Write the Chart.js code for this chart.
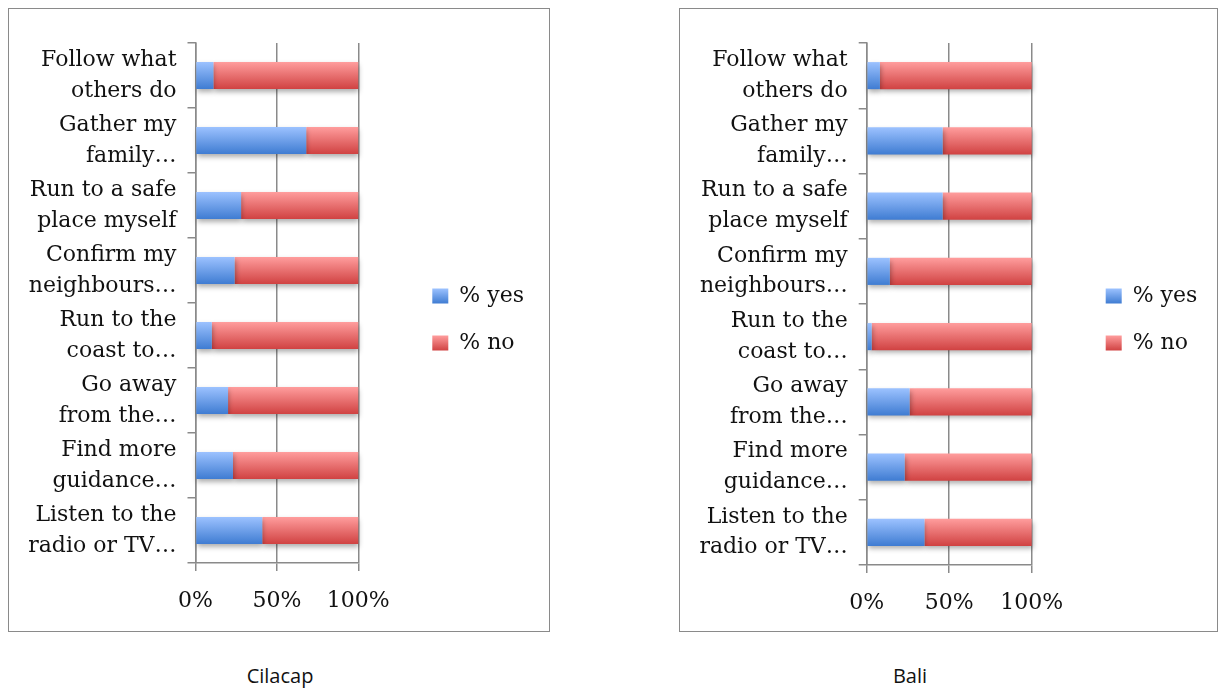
<!DOCTYPE html>
<html>
<head>
<meta charset="utf-8">
<script src="https://cdn.jsdelivr.net/npm/chart.js@4.4.1/dist/chart.umd.min.js"></script>
<style>
  html, body { margin: 0; padding: 0; background: #fff; }
  body { position: relative; width: 1218px; height: 690px; overflow: hidden; }
  .panel { position: absolute; top: 8px; height: 624px; border: 1.5px solid #8a8a8a; box-sizing: border-box; }
  canvas { position: absolute; top: 8px; }
  .caption { position: absolute; top: 662px; font: 20px "Open Sans", sans-serif; color: #111; transform: translateX(-50%); white-space: nowrap; }
</style>
</head>
<body>
<canvas id="cilacap" width="541" height="623" style="left:8px"></canvas>
<canvas id="bali" width="539" height="623" style="left:679px"></canvas>
<div class="panel" style="left:8px;width:542px"></div>
<div class="panel" style="left:679px;width:539px"></div>
<div class="caption" style="left:280px">Cilacap</div>
<div class="caption" style="left:910px">Bali</div>

<script>
// Survey answers: what people would do when a tsunami warning is issued
const categories = [
  ['Follow what', 'others do'],
  ['Gather my', 'family\u2026'],
  ['Run to a safe', 'place myself'],
  ['Confirm my', 'neighbours\u2026'],
  ['Run to the', 'coast to\u2026'],
  ['Go away', 'from the\u2026'],
  ['Find more', 'guidance\u2026'],
  ['Listen to the', 'radio or TV\u2026']
];
const seriesNames = ['% yes', '% no'];

const cilacapYes = [11, 68, 28, 24, 10, 20, 23, 41];
const cilacapNo  = [89, 32, 72, 76, 90, 80, 77, 59];

const baliYes = [8, 46, 46, 14, 3, 26, 23, 35];
const baliNo  = [92, 54, 54, 86, 97, 74, 77, 65];

const percentTicks = [0, 50, 100];

// ---- styling ----
const GRID = '#8a8a8a';
const TEXT = '#111111';
const SERIF = 'DejaVu Serif';
const BAR_SHARE = 0.415;
const BLUE = ['#9cc2ff', '#3f7cd2'];
const RED  = ['#ff9d9d', '#d04242'];
const LEGEND = { top: 277, gap: 74, box: 15, font: 22, padding: 25 };

function verticalGradient(ctx, top, bottom, stops) {
  const g = ctx.createLinearGradient(0, top, 0, bottom);
  g.addColorStop(0, stops[0]);
  g.addColorStop(1, stops[1]);
  return g;
}

// vertical light-to-dark gradient across each bar
function barFill(stops) {
  return (c) => {
    const chart = c.chart;
    const area = chart.chartArea;
    if (c.type !== 'data' || !area || !chart.scales.y) return stops[1];
    const mid = chart.scales.y.getPixelForValue(c.dataIndex);
    const half = (area.bottom - area.top) / categories.length * BAR_SHARE / 2;
    return verticalGradient(chart.ctx, mid - half, mid + half, stops);
  };
}

// legend swatches get the same gradient as the bars
function legendLabels(chart) {
  const items = Chart.defaults.plugins.legend.labels.generateLabels(chart);
  const stopsList = [BLUE, RED];
  items.forEach((item, i) => {
    const top = LEGEND.top + (LEGEND.font - LEGEND.box) / 2 + i * (LEGEND.font + LEGEND.padding);
    item.fillStyle = verticalGradient(chart.ctx, top, top + LEGEND.box, stopsList[i]);
    item.lineWidth = 0;
    item.strokeStyle = 'rgba(0,0,0,0)';
  });
  return items;
}

// soft drop shadow under the bars
const barShadow = {
  id: 'barShadow',
  beforeDatasetsDraw(chart, args, opts) {
    const ctx = chart.ctx;
    ctx.save();
    ctx.shadowColor = opts.color;
    ctx.shadowBlur = opts.blur;
    ctx.shadowOffsetX = opts.x;
    ctx.shadowOffsetY = opts.y;
  },
  afterDatasetsDraw(chart) {
    chart.ctx.restore();
  }
};

// fixed-width legend column, placed at a set gap from the plot
const legendSlot = {
  id: 'legendSlot',
  beforeLayout(chart, args, opts) {
    const legend = chart.legend;
    if (!legend || legend._slotPatched) return;
    const baseFit = legend.fit;
    legend.fit = function () {
      baseFit.call(this);
      this.width = opts.width;
    };
    legend._slotPatched = true;
  },
  afterLayout(chart, args, opts) {
    const legend = chart.legend;
    const pad = legend.options.labels.padding;
    const dx = chart.chartArea.right + opts.gap - pad - legend.left;
    const dy = opts.top - pad - legend.top;
    legend.left += dx; legend.right += dx;
    legend.top += dy; legend.bottom += dy;
  }
};

function makeChart(id, yes, no, dims) {
  const font = { family: SERIF, size: 22 };
  return new Chart(document.getElementById(id), {
    type: 'bar',
    data: {
      labels: categories,
      datasets: [
        { label: seriesNames[0], data: yes, backgroundColor: barFill(BLUE) },
        { label: seriesNames[1], data: no, backgroundColor: barFill(RED) }
      ]
    },
    options: {
      indexAxis: 'y',
      responsive: false,
      animation: false,
      events: [],
      layout: { padding: { top: 35, right: 0, bottom: 0, left: 0 } },
      datasets: {
        bar: { barPercentage: BAR_SHARE, categoryPercentage: 1, borderWidth: 0, clip: false }
      },
      scales: {
        x: {
          stacked: true,
          min: 0,
          max: 100,
          afterBuildTicks: (s) => { s.ticks = percentTicks.map(v => ({ value: v })); },
          ticks: { callback: (v) => v + '%', font, color: TEXT, padding: 17, maxRotation: 0 },
          grid: { color: GRID, lineWidth: 1.5, tickLength: 8 },
          border: { color: GRID, width: 1.5 },
          afterFit: (s) => { s.height = dims.xHeight; s.paddingLeft = 0; s.paddingRight = 0; }
        },
        y: {
          stacked: true,
          ticks: { font: { family: SERIF, size: 22, lineHeight: 1.4 }, color: TEXT, padding: 11, autoSkip: false },
          grid: { drawOnChartArea: false, color: GRID, lineWidth: 1.5, tickLength: 8, offset: true },
          border: { color: GRID, width: 1.5 },
          afterFit: (s) => { s.width = dims.yWidth; s.paddingTop = 0; s.paddingBottom = 0; }
        }
      },
      plugins: {
        tooltip: { enabled: false },
        legend: {
          position: 'right',
          align: 'start',
          labels: {
            font, color: TEXT, boxWidth: 16, boxHeight: LEGEND.box, padding: LEGEND.padding,
            generateLabels: legendLabels
          }
        },
        legendSlot: { width: dims.legendWidth, gap: LEGEND.gap, top: LEGEND.top },
        barShadow: { color: 'rgba(0,0,0,0.32)', blur: 5, x: 1, y: 3 }
      }
    },
    plugins: [legendSlot, barShadow]
  });
}

makeChart('cilacap', cilacapYes, cilacapNo, { yWidth: 187.5, xHeight: 68, legendWidth: 190.7 });
makeChart('bali', baliYes, baliNo, { yWidth: 187.7, xHeight: 66, legendWidth: 186.3 });
</script>
</body>
</html>
